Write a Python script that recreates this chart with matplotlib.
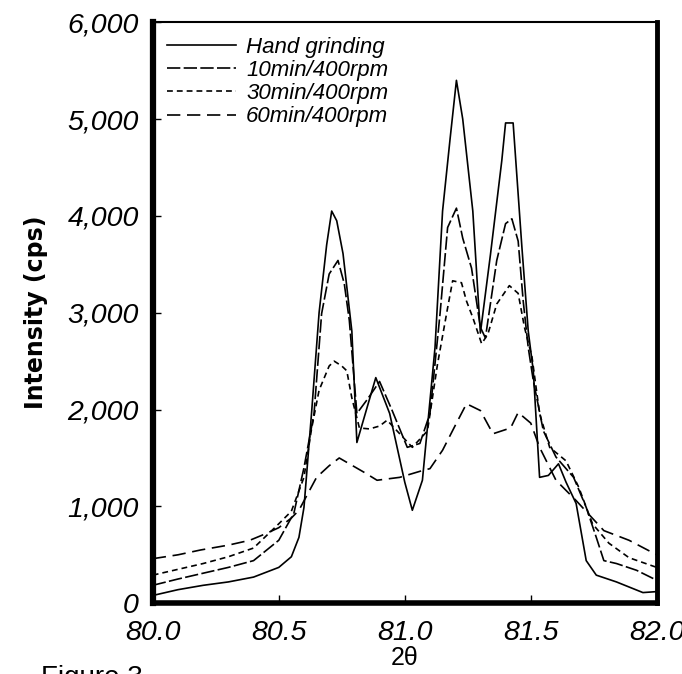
import matplotlib
matplotlib.use("Agg")
import matplotlib.pyplot as plt
from matplotlib.ticker import FuncFormatter

# Hand grinding
hand_x = [80.00, 80.05, 80.10, 80.20, 80.30, 80.40, 80.50, 80.55, 80.58, 80.60, 80.63, 80.66,
          80.69, 80.71, 80.73, 80.755, 80.79, 80.81, 80.885, 80.94, 81.00, 81.03, 81.07, 81.12,
          81.15, 81.18, 81.205, 81.23, 81.27, 81.30, 81.34, 81.385, 81.40, 81.43, 81.465, 81.49,
          81.51, 81.535, 81.57, 81.61, 81.64, 81.68, 81.72, 81.76, 81.84, 81.945, 82.00]
hand_y = [80, 110, 140, 185, 220, 270, 370, 480, 680, 990, 1960, 3000,
          3700, 4050, 3950, 3610, 2810, 1660, 2330, 1960, 1250, 960, 1270, 2640,
          4050, 4800, 5400, 5000, 4050, 2790, 3600, 4570, 4960, 4960, 3670, 2810,
          2400, 1300, 1320, 1440, 1250, 1030, 440, 290, 220, 110, 120]

# 10min/400rpm
m10_x = [80.00, 80.10, 80.20, 80.30, 80.40, 80.50, 80.56, 80.60, 80.64, 80.67, 80.70, 80.735,
         80.76, 80.78, 80.81, 80.85, 80.90, 80.95, 81.01, 81.06, 81.10, 81.14, 81.17, 81.205,
         81.23, 81.265, 81.30, 81.32, 81.365, 81.40, 81.425, 81.45, 81.47, 81.49, 81.51, 81.55,
         81.60, 81.67, 81.72, 81.76, 81.79, 81.84, 81.92, 82.00]
m10_y = [185, 250, 310, 370, 440, 650, 930, 1400, 1960, 2990, 3400, 3540,
         3300, 2920, 1960, 2100, 2290, 1990, 1610, 1650, 1960, 2990, 3880, 4080,
         3770, 3460, 2850, 2740, 3540, 3920, 3970, 3740, 3120, 2640, 2300, 1780,
         1510, 1300, 990, 680, 440, 410, 340, 237]

# 30min/400rpm
m30_x = [80.00, 80.10, 80.20, 80.30, 80.40, 80.50, 80.55, 80.60, 80.63, 80.66, 80.70, 80.72,
         80.75, 80.77, 80.79, 80.82, 80.86, 80.90, 80.93, 80.98, 81.03, 81.09, 81.13, 81.17,
         81.19, 81.225, 81.245, 81.27, 81.305, 81.33, 81.365, 81.415, 81.45, 81.475, 81.505, 81.535,
         81.575, 81.64, 81.69, 81.745, 81.81, 81.89, 82.00]
m30_y = [290, 350, 410, 480, 570, 820, 950, 1300, 1800, 2200, 2450, 2500,
         2450, 2400, 2120, 1810, 1800, 1830, 1890, 1750, 1610, 1780, 2470, 3050,
         3330, 3310, 3120, 2950, 2680, 2780, 3090, 3280, 3200, 2850, 2540, 1960,
         1610, 1470, 1200, 820, 620, 470, 370]

# 60min/400rpm
m60_x = [80.00, 80.10, 80.19, 80.30, 80.385, 80.45, 80.50, 80.55, 80.58, 80.65, 80.70, 80.74,
         80.78, 80.84, 80.89, 80.98, 81.07, 81.10, 81.15, 81.205, 81.245, 81.30, 81.35, 81.42,
         81.45, 81.50, 81.535, 81.60, 81.68, 81.79, 81.89, 82.00]
m60_y = [460, 500, 550, 600, 650, 720, 780, 880, 960, 1300, 1420, 1500,
         1440, 1350, 1270, 1300, 1370, 1390, 1580, 1860, 2060, 1990, 1750, 1810,
         1970, 1860, 1610, 1270, 1060, 750, 650, 500]

labels = ["Hand grinding", "10min/400rpm", "30min/400rpm", "60min/400rpm"]
x_ticks = [80.0, 80.5, 81.0, 81.5, 82.0]
y_ticks = [0, 1000, 2000, 3000, 4000, 5000, 6000]

plt.rcParams['font.family'] = ['Liberation Sans', 'DejaVu Sans']

fig = plt.figure(figsize=(6.82, 6.74), dpi=100)
ax = fig.add_axes([0.224, 0.105, 0.739, 0.862])

lw = 1.2
ax.plot(hand_x, hand_y, color='black', lw=lw, label=labels[0])
ax.plot(m10_x, m10_y, color='black', lw=lw, dashes=(8, 2), label=labels[1])
ax.plot(m30_x, m30_y, color='black', lw=lw, dashes=(3.5, 2.4), label=labels[2])
ax.plot(m60_x, m60_y, color='black', lw=lw, dashes=(8, 4), label=labels[3])

ax.set_xlim(80.0, 82.0)
ax.set_ylim(0, 6000)
ax.set_xticks(x_ticks)
ax.set_yticks(y_ticks)
ax.set_xticklabels([f"{v:.1f}" for v in x_ticks], fontstyle='italic')
ax.yaxis.set_major_formatter(FuncFormatter(lambda v, p: f"{int(v):,}"))
for t in ax.get_yticklabels():
    t.set_fontstyle('italic')
ax.tick_params(direction='in', length=6, width=1, labelsize=20.5, pad=10)
ax.tick_params(axis='x', pad=12)

ax.spines['left'].set_linewidth(4.5)
ax.spines['bottom'].set_linewidth(4)
ax.spines['right'].set_linewidth(3.5)
ax.spines['top'].set_linewidth(1.5)

ax.set_ylabel("Intensity (cps)", fontsize=17, fontweight='bold',
              family='DejaVu Sans', labelpad=14)
ax.set_xlabel("2θ", fontsize=18, labelpad=0)

leg = ax.legend(loc='upper left', frameon=False, fontsize=16, handlelength=3.1,
                labelspacing=0.1, borderaxespad=0.25, handletextpad=0.45)
for t in leg.get_texts():
    t.set_fontstyle('italic')

fig.text(0.06, 0.014, "Figure 3", fontsize=20, va='top')

fig.savefig("out.png", dpi=100)
